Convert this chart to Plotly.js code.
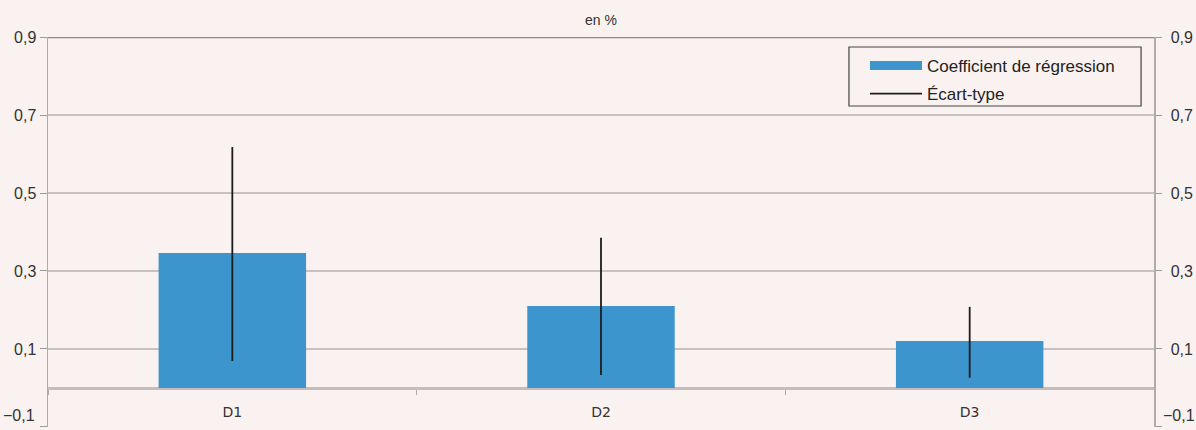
<!DOCTYPE html>
<html>
<head>
<meta charset="utf-8">
<script src="https://cdn.plot.ly/plotly-3.0.1.min.js"></script>
<style>
html,body{margin:0;padding:0;background:#faf2f0;}
#chart{width:1196px;height:430px;}
</style>
</head>
<body>
<div id="chart"></div>
<script>
const categories = ["D1", "D2", "D3"];
const coefficients = [0.346, 0.21, 0.12];
const ecartHigh = [0.618, 0.385, 0.208];
const ecartLow = [0.069, 0.033, 0.026];
const yTickVals = [-0.1, 0.1, 0.3, 0.5, 0.7, 0.9];

// error-bar segments built from the low/high arrays
const segX = [], segY = [];
categories.forEach((c, i) => {
  segX.push(c, c, null);
  segY.push(ecartLow[i], ecartHigh[i], null);
});

const font = "Liberation Sans, Arial, sans-serif";
const barColor = "#3d95cd";
const fmt = v => v.toFixed(1).replace(".", ",").replace("-", "\u2212");

const traces = [
  {
    type: "bar",
    name: "Coefficient de régression",
    x: categories,
    y: coefficients,
    width: 0.4,
    marker: { color: barColor },
    showlegend: false,
    hoverinfo: "skip"
  },
  {
    // legend swatch for the bars (wide flat rectangle)
    type: "scatter",
    mode: "lines",
    name: "Coefficient de régression",
    legendgroup: "a",
    x: [null],
    y: [null],
    line: { color: barColor, width: 9 },
    hoverinfo: "skip"
  },
  {
    type: "scatter",
    mode: "lines",
    name: "Écart-type",
    legendgroup: "b",
    x: segX,
    y: segY,
    yaxis: "y2",
    line: { color: "#1c1c1c", width: 1.8 },
    connectgaps: false,
    hoverinfo: "skip"
  }
];

const yCommon = {
  range: [-0.1004, 0.9004],
  tickmode: "array",
  tickvals: yTickVals,
  tickformat: ".1f",
  ticks: "outside",
  ticklen: 7,
  tickcolor: "#9a9a9a",
  tickfont: { family: font, size: 16, color: "#333" },
  showline: true,
  linecolor: "#b0aaa8",
  linewidth: 1.5,
  fixedrange: true
};

const layout = {
  width: 1196,
  height: 430,
  paper_bgcolor: "#faf2f0",
  plot_bgcolor: "#faf2f0",
  separators: ",.",
  margin: { l: 48, r: 42, t: 37, b: 3 },
  showlegend: true,
  legend: {
    x: 0.7387, xanchor: "left",
    y: 0.972, yanchor: "top",
    bgcolor: "rgba(0,0,0,0)",
    borderwidth: 0,
    font: { family: font, size: 17, color: "#222" },
    itemwidth: 52,
    traceorder: "grouped",
    tracegroupgap: 3
  },
  xaxis: {
    type: "category",
    anchor: "free",
    position: 0.1,
    tickson: "boundaries",
    ticks: "outside",
    ticklen: 5,
    tickcolor: "#b0aaa8",
    ticklabelstandoff: 11,
    tickfont: { family: "DejaVu Sans, Verdana, sans-serif", size: 14, color: "#333" },
    showline: true,
    linecolor: "#c4bdbb",
    linewidth: 1.5,
    showgrid: false,
    range: [-0.5, 2.5],
    fixedrange: true
  },
  yaxis: Object.assign({}, yCommon, {
    side: "left",
    showgrid: true,
    gridcolor: "#c8c1bf",
    gridwidth: 1.5,
    zeroline: true,
    zerolinecolor: "#c4bdbb",
    zerolinewidth: 1.5
  }),
  yaxis2: Object.assign({}, yCommon, {
    side: "right",
    overlaying: "y",
    showgrid: false,
    zeroline: false,
    ticklen: 6,
    ticklabelstandoff: 6
  }),
  shapes: [
    { type: "line", xref: "paper", yref: "y", x0: 0, x1: 1, y0: 0.9, y1: 0.9,
      line: { color: "#8a8685", width: 2 } },
    // legend frame
    { type: "rect", xref: "paper", yref: "paper", x0: 0.7242, x1: 0.9883, y0: 0.8231, y1: 0.9744,
      line: { color: "#444", width: 1.2 }, fillcolor: "rgba(0,0,0,0)" }
  ],
  annotations: [
    { text: "en %", xref: "paper", yref: "paper", x: 0.5, y: 1.018,
      xanchor: "center", yanchor: "bottom", showarrow: false,
      font: { family: font, size: 14, color: "#333" } },
    // lowest tick labels, sitting just above the bottom edge
    { text: fmt(yTickVals[0]), xref: "paper", yref: "y", x: -0.0095, y: yTickVals[0],
      xanchor: "right", yanchor: "bottom", yshift: 1, showarrow: false,
      font: { family: font, size: 16, color: "#333" } },
    { text: fmt(yTickVals[0]), xref: "paper", yref: "y", x: 1.0065, y: yTickVals[0],
      xanchor: "left", yanchor: "bottom", yshift: 1, showarrow: false,
      font: { family: font, size: 16, color: "#333" } }
  ]
};

Plotly.newPlot("chart", traces, layout, { displayModeBar: false, staticPlot: true });
</script>
</body>
</html>
